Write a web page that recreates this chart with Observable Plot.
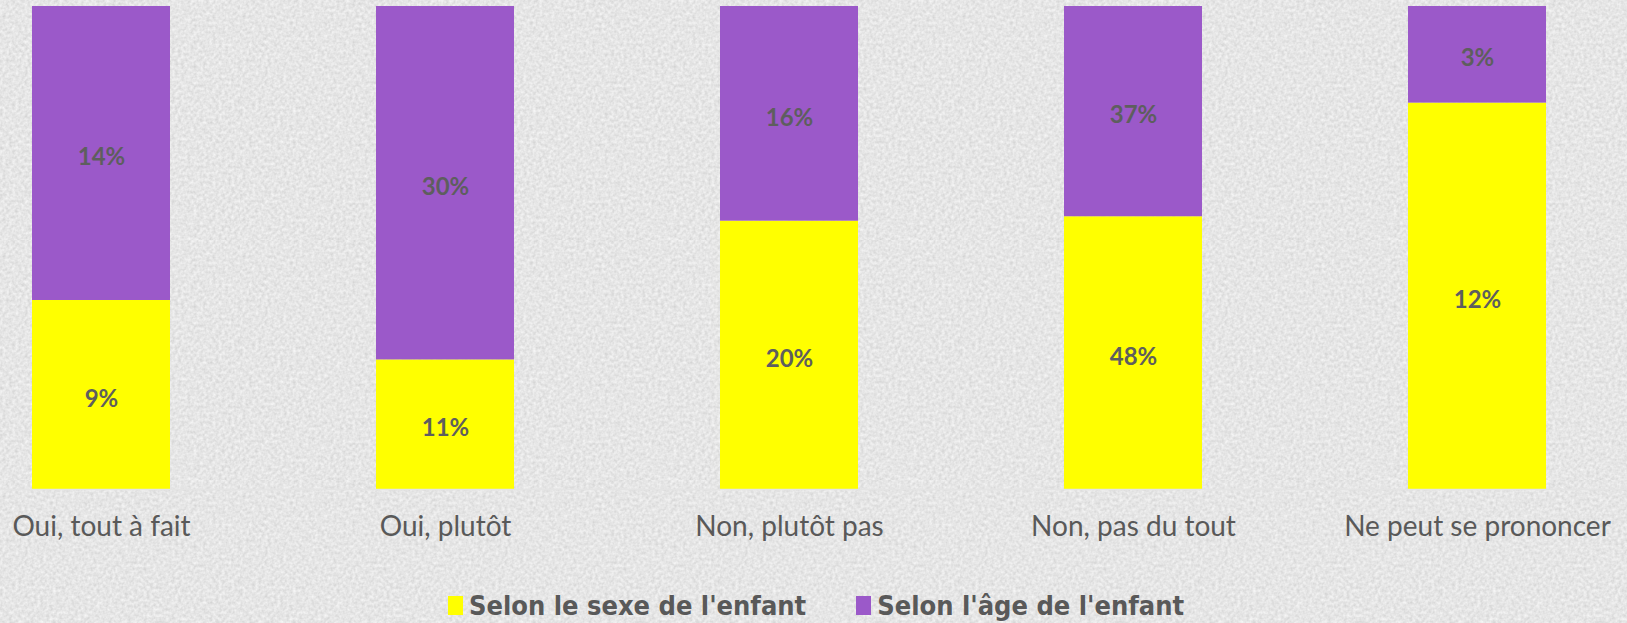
<!DOCTYPE html>
<html>
<head>
<meta charset="utf-8">
<script src="https://cdn.jsdelivr.net/npm/d3@7"></script>
<script src="https://cdn.jsdelivr.net/npm/@observablehq/plot@0.6"></script>
<style>
  html, body { margin: 0; padding: 0; }
  body {
    width: 1627px; height: 623px; overflow: hidden;
    background-color: #d3d3d3;
    background-image: url("data:image/svg+xml;utf8,<svg xmlns='http://www.w3.org/2000/svg' width='240' height='240'><filter id='n'><feTurbulence type='fractalNoise' baseFrequency='0.32' numOctaves='2' stitchTiles='stitch'/><feColorMatrix type='matrix' values='0.34 0 0 0 0.62  0.34 0 0 0 0.62  0.34 0 0 0 0.62  0 0 0 0 1'/></filter><rect width='240' height='240' filter='url(%23n)'/></svg>");
    font-family: Lato, "Open Sans", sans-serif;
  }
  #wrap { position: relative; width: 1627px; height: 623px; }
  #chart svg { display: block; background: transparent; }
  #legend {
    position: absolute; left: 448px; top: 590px;
    display: flex; align-items: center;
    font-family: "Liberation Sans Narrow", "DejaVu Sans Condensed", Lato, sans-serif;
    font-weight: bold; font-size: 27px; color: #595959; white-space: nowrap;
  }
  #legend .item { display: flex; align-items: center; margin-right: 50px; }
  #legend .sw { width: 15px; height: 19px; margin-right: 6px; display: inline-block; }
</style>
</head>
<body>
<div id="wrap">
  <div id="chart"></div>
  <div id="legend"></div>
</div>
<script>
const categories = ["Oui, tout à fait", "Oui, plutôt", "Non, plutôt pas", "Non, pas du tout", "Ne peut se prononcer"];
const seriesNames = ["Selon le sexe de l'enfant", "Selon l'âge de l'enfant"];
const sexeValues = [9, 11, 20, 48, 12];
const ageValues = [14, 30, 16, 37, 3];
const colors = ["#ffff00", "#9b59c9"];

const data = [];
categories.forEach((c, i) => {
  data.push({category: c, series: seriesNames[0], value: sexeValues[i]});
  data.push({category: c, series: seriesNames[1], value: ageValues[i]});
});

const stackOpts = {x: "category", y: "value", z: "series", offset: "normalize", order: seriesNames};

const chart = Plot.plot({
  width: 1627,
  height: 560,
  marginTop: 6,
  marginBottom: 71,
  marginLeft: 0,
  marginRight: 0,
  style: {background: "transparent", overflow: "visible"},
  x: {domain: categories, range: [-72.25, 1650.25], paddingInner: 0.6, paddingOuter: 0.3, label: null},
  y: {domain: [0, 1], axis: null},
  color: {domain: seriesNames, range: colors},
  marks: [
    Plot.barY(data, Plot.stackY({...stackOpts, fill: "series"})),
    Plot.ruleY([0], {stroke: "#e4e4e4", strokeWidth: 1.5}),
    Plot.text(data, Plot.stackY({...stackOpts, text: d => d.value + "%", fill: "#5e5e5e", fontSize: 24, fontWeight: "bold", fontFamily: "Lato, sans-serif", dy: 4})),
    Plot.axisX({tickSize: 0, tickPadding: 27, fontSize: 28, fill: "#595959", fontFamily: "Lato, sans-serif", label: null})
  ]
});
document.getElementById("chart").appendChild(chart);

const legend = document.getElementById("legend");
seriesNames.forEach((s, i) => {
  const item = document.createElement("div");
  item.className = "item";
  const sw = document.createElement("span");
  sw.className = "sw";
  sw.style.background = colors[i];
  const t = document.createElement("span");
  t.textContent = s;
  item.appendChild(sw);
  item.appendChild(t);
  legend.appendChild(item);
});
</script>
</body>
</html>
